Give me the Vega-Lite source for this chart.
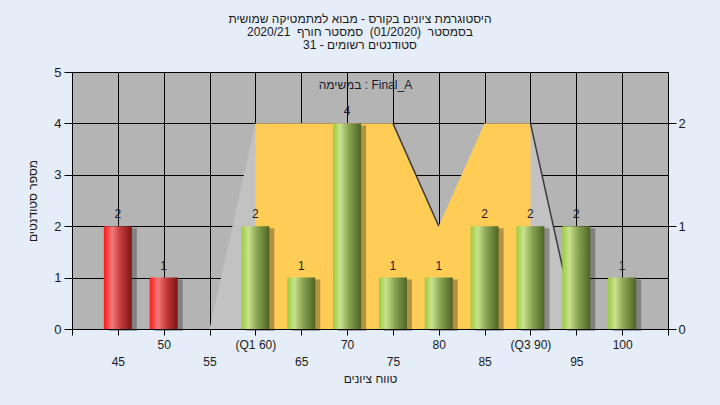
{
  "$schema": "https://vega.github.io/schema/vega-lite/v6.json",
  "width": 596,
  "height": 257,
  "autosize": "none",
  "padding": {"left": 72, "top": 72, "right": 52, "bottom": 76},
  "background": "#E5EDF8",
  "title": {
    "text": ["היסטוגרמת ציונים בקורס - מבוא למתמטיקה שמושית", "בסמסטר \u00a0(01/2020) \u00a0סמסטר חורף \u00a02020/21", "סטודנטים רשומים - 31"],
    "fontSize": 12,
    "fontWeight": "normal",
    "font": "Liberation Sans",
    "color": "#1a1a1a",
    "lineHeight": 13,
    "offset": 14,
    "anchor": "middle",
    "dx": -10
  },
  "config": {
    "font": "Liberation Sans",
    "view": {"fill": "#B4B4B4", "stroke": "black", "strokeWidth": 1}
  },
  "datasets": {
    "bins": [
      {"score": 45, "count": 2, "group": "fail"},
      {"score": 50, "count": 1, "group": "fail"},
      {"score": 55, "count": 0, "group": "fail"},
      {"score": 60, "count": 2, "group": "pass"},
      {"score": 65, "count": 1, "group": "pass"},
      {"score": 70, "count": 4, "group": "pass"},
      {"score": 75, "count": 1, "group": "pass"},
      {"score": 80, "count": 1, "group": "pass"},
      {"score": 85, "count": 2, "group": "pass"},
      {"score": 90, "count": 2, "group": "pass"},
      {"score": 95, "count": 2, "group": "pass"},
      {"score": 100, "count": 1, "group": "pass"}
    ],
    "poly": [
      {"score": 55, "v": 0},
      {"score": 60, "v": 2},
      {"score": 65, "v": 2},
      {"score": 70, "v": 2},
      {"score": 75, "v": 2},
      {"score": 80, "v": 1},
      {"score": 85, "v": 2},
      {"score": 90, "v": 2},
      {"score": 95, "v": 0}
    ],
    "edges": [
      {"score": 75, "v": 2, "seg": "a"},
      {"score": 80, "v": 1, "seg": "a"},
      {"score": 90, "v": 2, "seg": "b"},
      {"score": 95, "v": 0, "seg": "b"}
    ],
    "caption": [
      {"label": "במשימה : Final_A"}
    ]
  },
  "layer": [
    {
      "encoding": {
        "x": {
          "field": "score",
          "type": "quantitative",
          "scale": {"domain": [40, 105], "nice": false, "zero": false, "padding": 0},
          "axis": {
            "values": [40, 45, 50, 55, 60, 65, 70, 75, 80, 85, 90, 95, 100, 105],
            "labelExpr": "datum.value == 40 || datum.value == 105 ? '' : datum.value == 60 ? '(Q1 60)' : datum.value == 90 ? '(Q3 90)' : datum.value % 10 == 5 ? ['', datum.label] : datum.label",
            "labelLineHeight": 17,
            "labelBaseline": "top",
            "labelPadding": 4,
            "labelFontSize": 12,
            "labelColor": "#1a1a1a",
            "labelOverlap": false,
            "labelFlush": false,
            "tickSize": 6,
            "tickColor": "black",
            "domainColor": "black",
            "grid": true,
            "gridColor": "black",
            "gridOpacity": 1,
            "title": "טווח ציונים",
            "titleFontWeight": "normal",
            "titleFontSize": 12,
            "titleColor": "#1a1a1a",
            "titlePadding": 6
          }
        },
        "y": {
          "field": "v",
          "type": "quantitative",
          "scale": {"domain": [0, 2.5], "nice": false},
          "axis": {
            "orient": "right",
            "values": [0, 1, 2],
            "grid": false,
            "tickSize": 8,
            "tickColor": "black",
            "domainColor": "black",
            "labelPadding": 2,
            "labelFontSize": 13,
            "labelColor": "#1a1a1a",
            "title": null
          }
        }
      },
      "layer": [
        {
          "data": {"name": "poly"},
          "mark": {"type": "area", "color": "#C2C2C2", "interpolate": "linear"}
        },
        {
          "data": {"name": "poly"},
          "transform": [{"filter": "datum.score >= 60 && datum.score <= 90"}],
          "mark": {"type": "area", "color": "#FFCC55", "interpolate": "linear"}
        },
        {
          "data": {"name": "edges"},
          "mark": {"type": "line", "color": "#3a3a3a", "strokeWidth": 1.5},
          "encoding": {"detail": {"field": "seg"}}
        }
      ]
    },
    {
      "data": {"name": "bins"},
      "encoding": {
        "x": {"field": "score", "type": "quantitative"},
        "y": {
          "field": "count",
          "type": "quantitative",
          "scale": {"domain": [0, 5], "nice": false},
          "axis": {
            "values": [0, 1, 2, 3, 4, 5],
            "grid": true,
            "gridColor": "black",
            "gridOpacity": 1,
            "tickSize": 8,
            "tickColor": "black",
            "domainColor": "black",
            "labelPadding": 3,
            "labelFontSize": 13,
            "labelColor": "#1a1a1a",
            "title": "מספר סטודנטים",
            "titleFontWeight": "normal",
            "titleFontSize": 12,
            "titleColor": "#1a1a1a",
            "titlePadding": 14
          }
        }
      },
      "layer": [
        {
          "transform": [{"filter": "datum.count > 0"}],
          "mark": {"type": "bar", "width": 28, "color": "#222222", "opacity": 0.35, "xOffset": 5, "yOffset": 2}
        },
        {
          "transform": [{"filter": "datum.count > 0 && datum.group == 'fail'"}],
          "mark": {
            "type": "bar",
            "width": 28,
            "color": {
              "gradient": "linear", "x1": 0, "x2": 1, "y1": 0, "y2": 0,
              "stops": [
                {"offset": 0, "color": "#FF1A1A"},
                {"offset": 0.3, "color": "#F07A7A"},
                {"offset": 0.6, "color": "#C43A3A"},
                {"offset": 1, "color": "#7A1515"}
              ]
            }
          }
        },
        {
          "transform": [{"filter": "datum.count > 0 && datum.group == 'pass'"}],
          "mark": {
            "type": "bar",
            "width": 28,
            "color": {
              "gradient": "linear", "x1": 0, "x2": 1, "y1": 0, "y2": 0,
              "stops": [
                {"offset": 0, "color": "#9CCB3B"},
                {"offset": 0.25, "color": "#C9E28F"},
                {"offset": 0.55, "color": "#8BA655"},
                {"offset": 1, "color": "#4D6422"}
              ]
            }
          }
        },
        {
          "transform": [{"filter": "datum.count > 0"}],
          "mark": {"type": "text", "baseline": "bottom", "dy": -5, "fontSize": 12, "color": "#1a1a2e"},
          "encoding": {"text": {"field": "count", "type": "quantitative"}}
        }
      ]
    },
    {
      "data": {"name": "caption"},
      "mark": {"type": "text", "fontSize": 12, "color": "#1a1a2e", "baseline": "middle", "align": "center"},
      "encoding": {
        "x": {"datum": 72, "type": "quantitative"},
        "y": {"datum": 4.75, "type": "quantitative", "scale": {"domain": [0, 5], "nice": false}, "axis": null},
        "text": {"field": "label", "type": "nominal"}
      }
    }
  ],
  "resolve": {"scale": {"y": "independent"}}
}
